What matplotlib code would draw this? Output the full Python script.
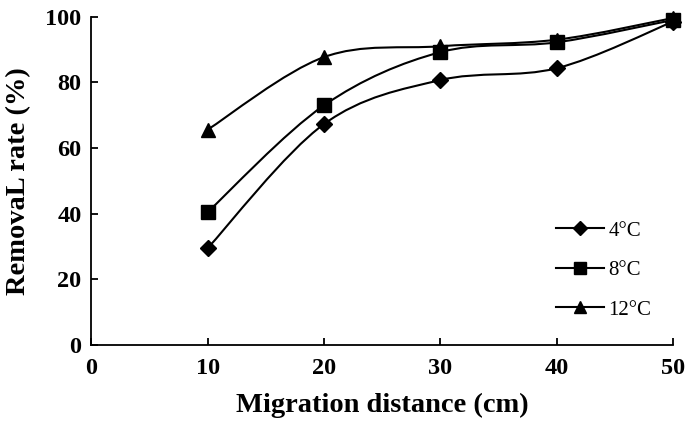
import numpy as np
import matplotlib.pyplot as plt
from matplotlib.path import Path
from matplotlib.patches import PathPatch
from matplotlib.lines import Line2D

# ---------------- Data ----------------
distance = [10, 20, 30, 40, 50]
rate_4c = [29.5, 67.3, 80.7, 84.3, 98.5]
rate_8c = [40.5, 73.0, 89.2, 92.2, 99.0]
rate_12c = [65.6, 87.7, 91.0, 93.0, 99.6]
labels = ["4°C", "8°C", "12°C"]
markers = ["D", "s", "^"]
msizes = [8.5, 10.5, 10]

plt.rcParams["font.family"] = ["Liberation Serif", "DejaVu Serif"]


def smooth_path(x, y):
    """Excel-style smoothed line: Catmull-Rom segments as cubic Beziers."""
    pts = np.column_stack([np.asarray(x, float), np.asarray(y, float)])
    n = len(pts)
    verts = [pts[0]]
    codes = [Path.MOVETO]
    for i in range(n - 1):
        p0 = pts[max(i - 1, 0)]
        p1 = pts[i]
        p2 = pts[i + 1]
        p3 = pts[min(i + 2, n - 1)]
        verts += [p1 + (p2 - p0) / 6.0, p2 - (p3 - p1) / 6.0, p2]
        codes += [Path.CURVE4] * 3
    return Path(verts, codes)


fig = plt.figure(figsize=(6.85, 4.21), dpi=100)
ax = fig.add_axes([0.1333, 0.1805, 0.8492, 0.7798])

for ys, mk, ms in zip([rate_4c, rate_8c, rate_12c], markers, msizes):
    ax.add_patch(PathPatch(smooth_path(distance, ys), facecolor="none",
                           edgecolor="black", lw=1.5, clip_on=False))
    ax.plot(distance, ys, linestyle="none", marker=mk, ms=ms, color="black",
            clip_on=False, zorder=3)

ax.set_xlim(0, 50)
ax.set_ylim(0, 100)
ax.set_xticks(range(0, 51, 10))
ax.set_yticks(range(0, 101, 20))
ax.spines["top"].set_visible(False)
ax.spines["right"].set_visible(False)
for s in ("left", "bottom"):
    ax.spines[s].set_linewidth(1.3)
ax.tick_params(direction="in", length=5, width=1.3, labelsize=17.5)
ax.tick_params(axis="x", pad=9)
ax.tick_params(axis="y", pad=7)
for t in ax.get_xticklabels() + ax.get_yticklabels():
    t.set_fontweight("bold")

ax.set_xlabel("Migration distance (cm)", fontsize=20.5, fontweight="bold", labelpad=10)
ax.set_ylabel("RemovaL rate (%)", fontsize=20.5, fontweight="bold", labelpad=10)

handles = [Line2D([], [], color="black", lw=1.5, marker=mk, ms=ms * 0.85)
           for mk, ms in zip(markers, msizes)]
fig.legend(handles, labels, loc="upper left", bbox_to_anchor=(0.80, 0.495),
           frameon=False, fontsize=15, handlelength=2.3, handletextpad=0.2,
           labelspacing=0.96, borderaxespad=0)

fig.savefig("out.png", dpi=100)
